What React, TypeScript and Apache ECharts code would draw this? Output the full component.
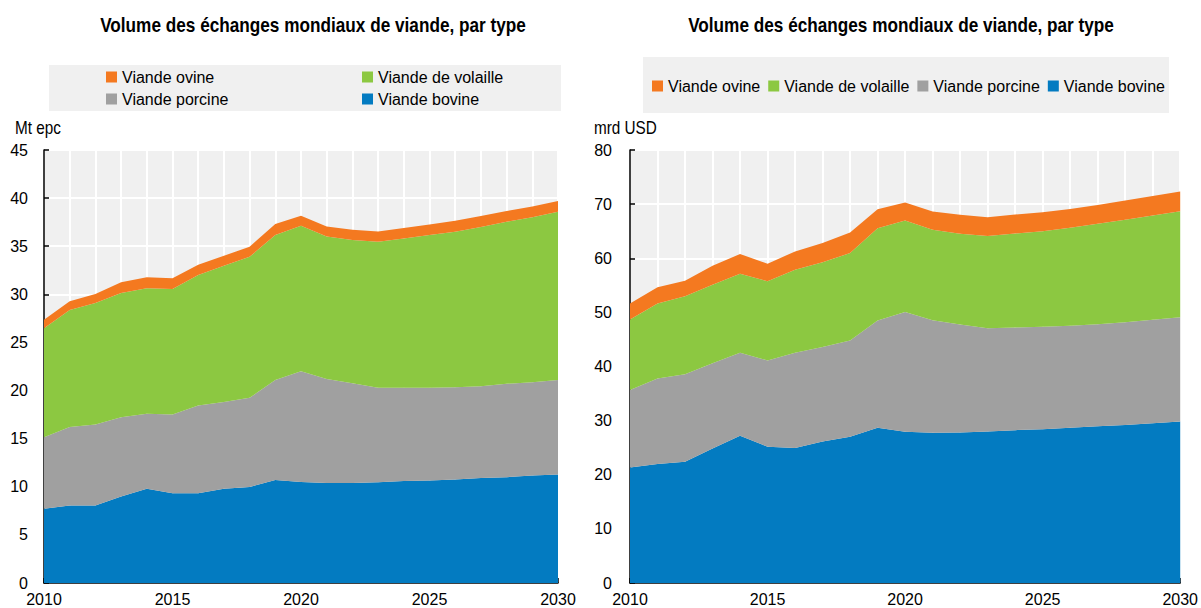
import React, { useEffect, useRef } from "react";
import * as echarts from "echarts";

const years = ["2010","2011","2012","2013","2014","2015","2016","2017","2018","2019","2020","2021","2022","2023","2024","2025","2026","2027","2028","2029","2030"];
const seriesNames = ["Viande bovine", "Viande porcine", "Viande de volaille", "Viande ovine"];
const colors = ["#037BC1", "#A0A0A0", "#8CC841", "#F47920"];

// Volume (Mt epc)
const volBovine = [7.72,8.06,8.06,9.0,9.8,9.34,9.34,9.8,9.97,10.7,10.5,10.38,10.4,10.48,10.6,10.66,10.76,10.9,11.0,11.18,11.28];
const volPorcine = [7.44,8.14,8.41,8.23,7.78,8.16,9.1,9.0,9.27,10.4,11.5,10.82,10.36,9.8,9.68,9.62,9.59,9.55,9.7,9.69,9.82];
const volVolaille = [11.31,12.17,12.63,12.91,13.04,13.05,13.56,14.18,14.66,15.06,15.13,14.8,14.88,15.19,15.52,15.88,16.15,16.55,16.84,17.13,17.48];
const volOvine = [0.9,0.9,0.93,1.11,1.15,1.11,1.08,1.02,1.05,1.14,1.04,1.06,1.06,1.07,1.1,1.11,1.15,1.13,1.11,1.13,1.11];

// Value (mrd USD)
const valBovine = [21.36,21.98,22.4,24.86,27.2,25.17,24.92,26.15,27.0,28.7,27.93,27.75,27.8,28.0,28.24,28.42,28.67,28.97,29.2,29.5,29.83];
const valPorcine = [14.31,15.82,16.15,15.72,15.34,15.96,17.62,17.43,17.8,19.8,22.16,20.81,19.96,19.08,18.96,18.91,18.84,18.85,18.99,19.12,19.27];
const valVolaille = [13.01,13.83,14.43,14.54,14.61,14.61,15.35,15.66,16.16,17.06,16.88,16.69,16.76,17.01,17.38,17.67,18.11,18.54,18.91,19.28,19.59];
const valOvine = [2.95,3.0,2.88,3.5,3.62,3.25,3.37,3.56,3.8,3.5,3.32,3.38,3.5,3.5,3.5,3.51,3.5,3.5,3.56,3.62,3.62];

const leftTicks = { min: 0, max: 45, interval: 5 };
const rightTicks = { min: 0, max: 80, interval: 10 };

const titleText = "Volume des échanges mondiaux de viande, par type";
const leftUnit = "Mt epc";
const rightUnit = "mrd USD";

const FONT = "'Liberation Sans', Arial, sans-serif";
const FS = 16;

export default function App() {
  const ref = useRef<HTMLDivElement>(null);

  useEffect(() => {
    document.body.style.margin = "0";
    if (!ref.current) return;
    const chart = echarts.init(ref.current, undefined, { renderer: "svg" });

    const xAxisBase = (gridIndex: number) => ({
      type: "category",
      gridIndex,
      data: years,
      boundaryGap: false,
      axisLine: { show: true, lineStyle: { color: "#000", width: 1.5 } },
      axisTick: { show: true, inside: true, length: 5, interval: 0, lineStyle: { color: "#000", width: 1.5 } },
      axisLabel: { interval: 4, color: "#000", fontSize: FS, fontFamily: FONT, margin: 8 },
      splitLine: { show: true, interval: 0, lineStyle: { color: "#fff", width: 2 } },
    });

    const yAxisBase = (gridIndex: number, t: { min: number; max: number; interval: number }, margin: number) => ({
      type: "value",
      gridIndex,
      min: t.min,
      max: t.max,
      interval: t.interval,
      axisLine: { show: true, lineStyle: { color: "#000", width: 1.5 } },
      axisTick: { show: true, inside: true, length: 5, lineStyle: { color: "#000", width: 1.5 } },
      axisLabel: { color: "#000", fontSize: FS, fontFamily: FONT, margin },
      splitLine: { show: true, lineStyle: { color: "#fff", width: 2 } },
    });

    const mk = (name: string, data: number[], color: string, idx: number, stack: string) => ({
      type: "line",
      name,
      xAxisIndex: idx,
      yAxisIndex: idx,
      stack,
      data,
      symbol: "none",
      showSymbol: false,
      lineStyle: { width: 0, color },
      itemStyle: { color },
      areaStyle: { color, opacity: 1 },
      emphasis: { disabled: true },
    });

    const legendItem = (name: string, left: number, centerY: number) => ({
      data: [name],
      left,
      top: centerY - 9,
      padding: 0,
      icon: "rect",
      itemWidth: 11,
      itemHeight: 11,
      selectedMode: false,
      textStyle: { color: "#000", fontSize: FS, fontFamily: FONT, lineHeight: 18 },
    });

    const option: any = {
      animation: false,
      backgroundColor: "#fff",
      grid: [
        { left: 44, top: 150, width: 514, height: 433, show: true, backgroundColor: "#F0F0F0", borderWidth: 0 },
        { left: 630, top: 150, width: 553, height: 433, show: true, backgroundColor: "#F0F0F0", borderWidth: 0 },
      ],
      xAxis: [xAxisBase(0), xAxisBase(1)],
      yAxis: [yAxisBase(0, leftTicks, 16), yAxisBase(1, rightTicks, 18)],
      legend: [
        legendItem("Viande ovine", 106, 77),
        legendItem("Viande de volaille", 362, 77),
        legendItem("Viande porcine", 106, 99),
        legendItem("Viande bovine", 362, 99),
        {
          data: ["Viande ovine", "Viande de volaille", "Viande porcine", "Viande bovine"],
          left: 652,
          top: 77,
          padding: 0,
          orient: "horizontal",
          itemGap: 8,
          icon: "rect",
          itemWidth: 11,
          itemHeight: 11,
          selectedMode: false,
          textStyle: { color: "#000", fontSize: FS, fontFamily: FONT, lineHeight: 18 },
        },
      ],
      graphic: [
        { type: "rect", z: -10, shape: { x: 49, y: 65, width: 512, height: 46 }, style: { fill: "#F0F0F0" }, silent: true },
        { type: "rect", z: -10, shape: { x: 643, y: 57, width: 526, height: 56 }, style: { fill: "#F0F0F0" }, silent: true },
        { type: "text", x: 313, y: 25, scaleX: 0.86, style: { text: titleText, fill: "#000", font: `bold 20px ${FONT}`, textAlign: "center", textVerticalAlign: "middle" } },
        { type: "text", x: 901, y: 25, scaleX: 0.86, style: { text: titleText, fill: "#000", font: `bold 20px ${FONT}`, textAlign: "center", textVerticalAlign: "middle" } },
        { type: "text", x: 15, y: 128, scaleX: 0.85, style: { text: leftUnit, fill: "#000", font: `18px ${FONT}`, textAlign: "left", textVerticalAlign: "middle" } },
        { type: "text", x: 594, y: 128, scaleX: 0.85, style: { text: rightUnit, fill: "#000", font: `18px ${FONT}`, textAlign: "left", textVerticalAlign: "middle" } },
      ],
      series: [
        mk(seriesNames[0], volBovine, colors[0], 0, "vol"),
        mk(seriesNames[1], volPorcine, colors[1], 0, "vol"),
        mk(seriesNames[2], volVolaille, colors[2], 0, "vol"),
        mk(seriesNames[3], volOvine, colors[3], 0, "vol"),
        mk(seriesNames[0], valBovine, colors[0], 1, "val"),
        mk(seriesNames[1], valPorcine, colors[1], 1, "val"),
        mk(seriesNames[2], valVolaille, colors[2], 1, "val"),
        mk(seriesNames[3], valOvine, colors[3], 1, "val"),
      ],
    };

    chart.setOption(option);
    return () => chart.dispose();
  }, []);

  return <div ref={ref} style={{ width: 1201, height: 608 }} />;
}
